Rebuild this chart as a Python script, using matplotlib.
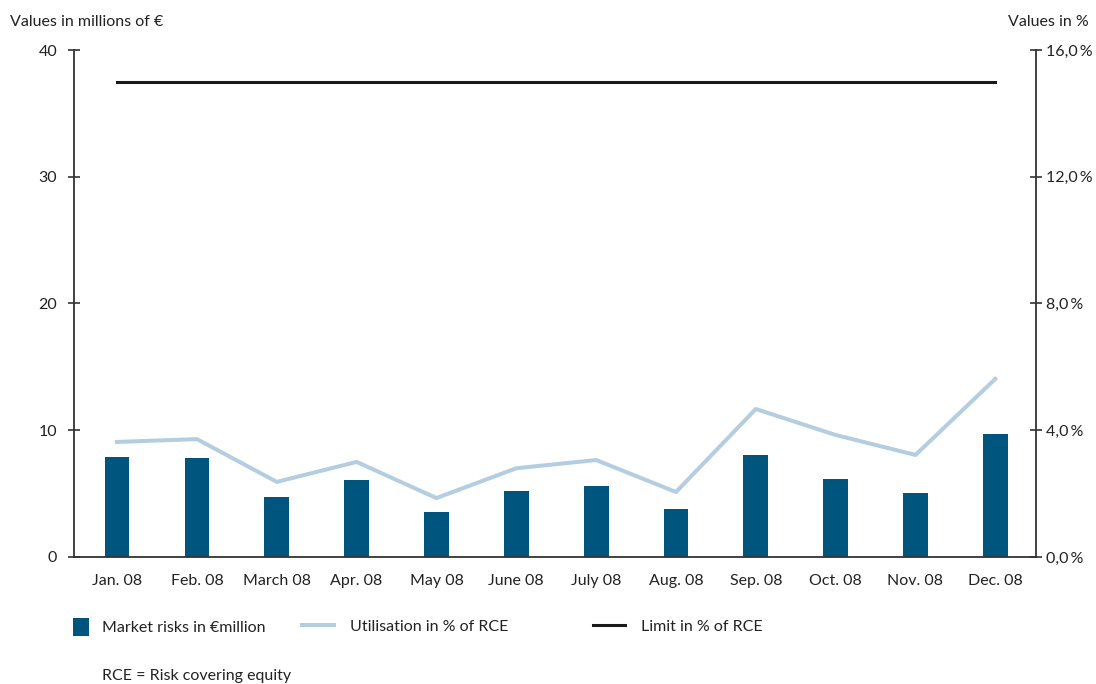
import numpy as np
import matplotlib
matplotlib.use("Agg")
import matplotlib.pyplot as plt
from matplotlib.patches import Patch
from matplotlib.lines import Line2D
from matplotlib.ticker import FuncFormatter

plt.rcParams['font.family'] = ['Lato', 'DejaVu Sans']

# data
months = ["Jan. 08", "Feb. 08", "March 08", "Apr. 08", "May 08", "June 08",
          "July 08", "Aug. 08", "Sep. 08", "Oct. 08", "Nov. 08", "Dec. 08"]
market_risks = [7.9, 7.8, 4.7, 6.1, 3.55, 5.2, 5.6, 3.8, 8.05, 6.15, 5.05, 9.7]
utilisation_pct = [3.63, 3.72, 2.37, 3.0, 1.86, 2.8, 3.06, 2.05, 4.67, 3.85, 3.22, 5.62]
limit_pct = [15.0] * 12

left_ticks = [0, 10, 20, 30, 40]
right_ticks = [0, 4, 8, 12, 16]

bar_color = "#00557F"
util_color = "#B4CDE1"
limit_color = "#1A1A1A"
txt_color = "#222222"
spine_color = "#333333"

fig = plt.figure(figsize=(10.96, 6.84), dpi=100)
ax = fig.add_axes([0.0675, 0.1857, 0.8778, 0.7412])
ax2 = ax.twinx()

x = np.arange(len(months))
bars = ax.bar(x, market_risks, width=0.31, color=bar_color, zorder=2)
util_line, = ax2.plot(x, utilisation_pct, color=util_color, lw=2.9, zorder=3)
limit_line, = ax2.plot(x, limit_pct, color=limit_color, lw=2.2, zorder=3)

ax.set_xlim(-0.54, 11.51)
ax.set_ylim(0, 40)
ax2.set_ylim(0, 16)
ax.set_yticks(left_ticks)
ax2.set_yticks(right_ticks)
ax2.yaxis.set_major_formatter(
    FuncFormatter(lambda v, p: f"{v:.1f}".replace(".", ",") + "\u2009%"))

ax.set_xticks(x)
ax.set_xticklabels(months)
ax.tick_params(axis='x', length=0, pad=12, labelsize=11.5, labelcolor=txt_color)
ax.tick_params(axis='y', direction='inout', length=8, width=1.2, color=spine_color,
               labelsize=11.5, labelcolor=txt_color, pad=8)
ax2.tick_params(axis='y', direction='inout', length=8, width=1.2, color=spine_color,
                labelsize=11.5, labelcolor=txt_color, pad=3)

for a in (ax, ax2):
    a.spines['top'].set_visible(False)
    for s in ('left', 'right', 'bottom'):
        a.spines[s].set_color(spine_color)
        a.spines[s].set_linewidth(1.3)
ax.spines['right'].set_visible(False)
ax2.spines['left'].set_visible(False)
ax2.spines['bottom'].set_visible(False)

fig.text(10 / 1096, 1 - 22 / 684, "Values in millions of €", fontsize=11.5,
         color=txt_color, va='center', ha='left')
fig.text(1089 / 1096, 1 - 22 / 684, "Values in %", fontsize=11.5,
         color=txt_color, va='center', ha='right')

# legend, three separate entries
entries = [
    (Patch(facecolor=bar_color, edgecolor='none'), "Market risks in €million", 73),
    (Line2D([], [], color=util_color, lw=2.9), "Utilisation in % of RCE", 302),
    (Line2D([], [], color=limit_color, lw=2.2), "Limit in % of RCE", 593),
]
for handle, label, xpx in entries:
    is_patch = isinstance(handle, Patch)
    leg = fig.legend([handle], [label], loc='center left',
                     bbox_to_anchor=(xpx / 1096, 1 - 627 / 684),
                     frameon=False, fontsize=11.5,
                     handlelength=1.0 if is_patch else 2.0,
                     handleheight=1.3 if is_patch else 0.7,
                     handletextpad=0.8 if is_patch else 1.0,
                     borderpad=0, borderaxespad=0)
    for t in leg.get_texts():
        t.set_color(txt_color)

fig.text(102 / 1096, 1 - 676 / 684, "RCE = Risk covering equity", fontsize=11.5,
         color=txt_color, va='center', ha='left')

fig.savefig("out.png", dpi=100)
